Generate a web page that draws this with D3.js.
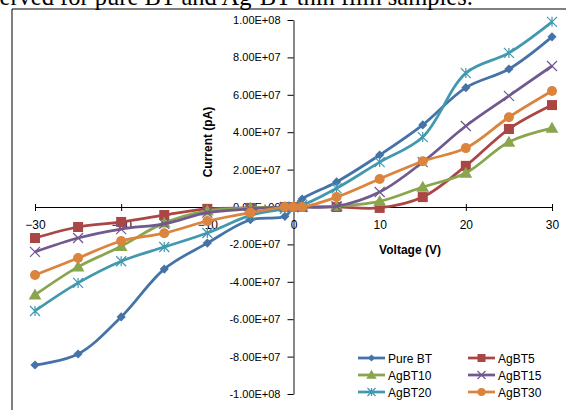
<!DOCTYPE html>
<html>
<head>
<meta charset="utf-8">
<script src="https://cdn.jsdelivr.net/npm/d3@7"></script>
<style>
  body { margin: 0; background: #fff; }
  svg { display: block; font-family: "Liberation Sans", Arial, sans-serif; }
</style>
</head>
<body>
<div id="chart"></div>
<script>
// Data (current in units of 1e7 pA)
const voltages = [-30, -25, -20, -15, -10, -5, -1, 0, 1, 5, 10, 15, 20, 25, 30];
const seriesNames = ["Pure BT", "AgBT5", "AgBT10", "AgBT15", "AgBT20", "AgBT30"];
const pureBT = [-8.45, -7.86, -5.88, -3.32, -1.93, -0.68, -0.5, 0, 0.43, 1.34, 2.78, 4.39, 6.38, 7.38, 9.1];
const agBT5  = [-1.66, -1.07, -0.8, -0.43, -0.1, -0.05, 0, 0, 0, 0, -0.05, 0.53, 2.2, 4.17, 5.45];
const agBT10 = [-4.7, -3.2, -2.1, -0.85, -0.2, -0.05, 0, 0, 0, 0.05, 0.3, 1.07, 1.82, 3.48, 4.22];
const agBT15 = [-2.4, -1.66, -1.18, -0.9, -0.3, -0.1, 0, 0, 0, 0.04, 0.8, 2.4, 4.33, 5.94, 7.54];
const agBT20 = [-5.56, -4.06, -2.9, -2.14, -1.39, -0.45, -0.1, 0, 0.1, 1.0, 2.4, 3.74, 7.16, 8.24, 9.9];
const agBT30 = [-3.64, -2.73, -1.82, -1.4, -0.75, -0.3, 0, 0, 0, 0.53, 1.5, 2.45, 3.15, 4.8, 6.2];
const xTicks = [-30, -20, -10, 0, 10, 20, 30];
const yTicks = [-1e8, -8e7, -6e7, -4e7, -2e7, 0, 2e7, 4e7, 6e7, 8e7, 1e8];

const colors = ["#4572A7", "#AA4643", "#89A54E", "#71588F", "#4198AF", "#DB843D"];
const markers = ["diamond", "square", "triangle", "x", "star", "circle"];
const allValues = [pureBT, agBT5, agBT10, agBT15, agBT20, agBT30];

const W = 566, H = 410;
const svg = d3.select("#chart").append("svg")
  .attr("width", W)
  .attr("height", H);

// Caption text cut off at the top
svg.append("text")
  .attr("x", -10)
  .attr("y", 5)
  .style("font-family", "'Liberation Serif', 'Times New Roman', serif")
  .style("font-size", "24.5px")
  .style("fill", "#000")
  .text("served for pure BT and Ag-BT thin film samples.");

// Chart frame (left and top edges visible)
svg.append("line").attr("x1", 12).attr("x2", W).attr("y1", 9).attr("y2", 9)
  .style("stroke", "#000").style("stroke-width", 1);
svg.append("line").attr("x1", 12).attr("x2", 12).attr("y1", 9).attr("y2", H)
  .style("stroke", "#000").style("stroke-width", 1);

// Scales
const x = d3.scaleLinear().domain([-30, 30]).range([35, 552]);
const y = d3.scaleLinear().domain([-1e8, 1e8]).range([394, 20]);

function sci(v) {
  if (v === 0) return "0.00E+00";
  const e = Math.floor(Math.log10(Math.abs(v)) + 1e-9);
  const m = v / Math.pow(10, e);
  return m.toFixed(2) + "E" + (e < 0 ? "-" : "+") + String(Math.abs(e)).padStart(2, "0");
}

// Y axis
const yAxis = svg.append("g")
  .attr("transform", `translate(${x(0)},0)`)
  .call(d3.axisLeft(y).tickValues(yTicks).tickFormat(sci).tickSize(6).tickPadding(7).tickSizeOuter(0));
yAxis.select(".domain").style("stroke", "#868686").style("stroke-width", 2);
yAxis.selectAll(".tick line").style("stroke", "#000");
yAxis.selectAll("text").style("font-size", "11px").style("fill", "#000");

// X axis
const xAxis = svg.append("g")
  .attr("transform", `translate(0,${y(0)})`)
  .call(d3.axisBottom(x).tickValues(xTicks).tickFormat(d3.format("d")).tickSize(4).tickPadding(9).tickSizeOuter(0));
xAxis.select(".domain").style("stroke", "#000").style("stroke-width", 1.2);
xAxis.selectAll(".tick line").attr("y1", -3).style("stroke", "#000");
xAxis.selectAll("text").style("font-size", "12px").style("fill", "#000");

// Axis titles
svg.append("text")
  .attr("transform", `translate(212,142) rotate(-90)`)
  .attr("text-anchor", "middle")
  .style("font-size", "12px")
  .style("font-weight", "bold")
  .text("Current (pA)");

svg.append("text")
  .attr("x", 410)
  .attr("y", 254)
  .attr("text-anchor", "middle")
  .style("font-size", "12px")
  .style("font-weight", "bold")
  .text("Voltage (V)");

// Marker drawing
function drawMarker(g, type, color, s) {
  if (type === "diamond") {
    g.append("rect").attr("x", -s * 0.36).attr("y", -s * 0.36).attr("width", s * 0.72).attr("height", s * 0.72)
      .attr("transform", "rotate(45)").style("fill", color);
  } else if (type === "square") {
    g.append("rect").attr("x", -s / 2).attr("y", -s / 2).attr("width", s).attr("height", s).style("fill", color);
  } else if (type === "triangle") {
    const h = s * 0.95;
    g.append("path").attr("d", `M0,${-h * 0.6}L${s * 0.58},${h * 0.45}L${-s * 0.58},${h * 0.45}Z`).style("fill", color);
  } else if (type === "x") {
    const r = s / 2;
    g.append("path").attr("d", `M${-r},${-r}L${r},${r}M${-r},${r}L${r},${-r}`)
      .style("stroke", color).style("stroke-width", 1.2).style("fill", "none");
  } else if (type === "star") {
    const r = s / 2;
    g.append("path").attr("d", `M${-r},${-r}L${r},${r}M${-r},${r}L${r},${-r}M0,${-r}L0,${r}`)
      .style("stroke", color).style("stroke-width", 1.2).style("fill", "none");
  } else {
    g.append("circle").attr("r", s / 2).style("fill", color);
  }
}

// Series
const line = d3.line()
  .x(d => x(d.v))
  .y(d => y(d.c * 1e7))
  .curve(d3.curveCatmullRom.alpha(0.5));

allValues.forEach((vals, i) => {
  const pts = voltages.map((v, j) => ({ v: v, c: vals[j] }));
  svg.append("path")
    .datum(pts)
    .attr("d", line)
    .style("fill", "none")
    .style("stroke", colors[i])
    .style("stroke-width", 2.75)
    .style("stroke-linejoin", "round");
  const sizes = [9, 10, 11, 10, 10, 10];
  pts.forEach(p => {
    const g = svg.append("g").attr("transform", `translate(${x(p.v)},${y(p.c * 1e7)})`);
    drawMarker(g, markers[i], colors[i], sizes[i]);
  });
});

// Legend
const legendPos = [[358, 358], [468, 358], [358, 375], [468, 375], [358, 392], [468, 392]];
seriesNames.forEach((name, i) => {
  const g = svg.append("g").attr("transform", `translate(${legendPos[i][0]},${legendPos[i][1]})`);
  g.append("line").attr("x1", 0).attr("x2", 27).attr("y1", 0).attr("y2", 0)
    .style("stroke", colors[i]).style("stroke-width", 2.75);
  const m = g.append("g").attr("transform", "translate(13.5,0)");
  drawMarker(m, markers[i], colors[i], [7, 8, 9, 8, 8, 8][i]);
  g.append("text")
    .attr("x", 30)
    .attr("y", 4.5)
    .style("font-size", "12px")
    .style("fill", "#000")
    .text(name);
});
</script>
</body>
</html>
